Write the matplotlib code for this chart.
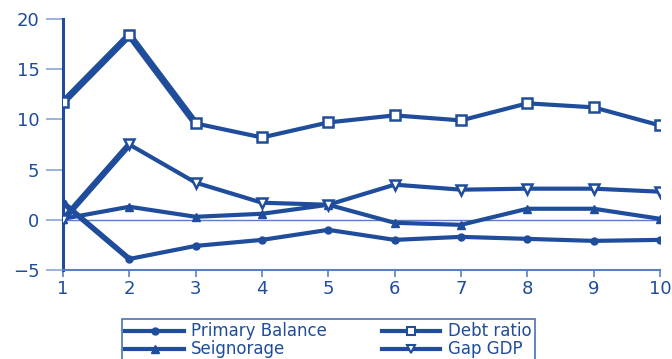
import matplotlib
matplotlib.use("Agg")
import matplotlib.pyplot as plt
from matplotlib.lines import Line2D

plt.rcParams['font.family'] = ['DejaVu Sans']

periods = [1, 2, 3, 4, 5, 6, 7, 8, 9, 10]
primary_balance = [1.7, -3.9, -2.6, -2.0, -1.0, -2.0, -1.7, -1.9, -2.1, -2.0]
debt_ratio = [11.7, 18.4, 9.6, 8.2, 9.7, 10.4, 9.9, 11.6, 11.2, 9.4]
seignorage = [0.1, 1.3, 0.3, 0.6, 1.5, -0.3, -0.5, 1.1, 1.1, 0.1]
gap_gdp = [0.0, 7.5, 3.7, 1.7, 1.5, 3.5, 3.0, 3.1, 3.1, 2.8]
y_ticks = [-5, 0, 5, 10, 15, 20]

blue = '#1f4d9b'
light = '#5b7fc0'

fig = plt.figure(figsize=(6.72, 3.59), dpi=100)
ax = fig.add_axes([63/672, 1-270/359, (660-63)/672, (270-19)/359])

lw = 3.0
ax.axhline(0, color=light, lw=1.0, zorder=1)
# heavier early segments
ax.plot(periods[:3], debt_ratio[:3], color=blue, lw=5.0, zorder=2, solid_capstyle='round')
ax.plot(periods[:2], gap_gdp[:2], color=blue, lw=4.5, zorder=2, solid_capstyle='round')
ax.plot(periods[:2], primary_balance[:2], color=blue, lw=4.0, zorder=2, solid_capstyle='round')

ax.plot(periods, primary_balance, color=blue, lw=lw, marker='o', ms=5,
        mfc=blue, mec=blue, zorder=3)
ax.plot(periods, debt_ratio, color=blue, lw=lw, marker='s', ms=6.5,
        mfc='white', mec=blue, mew=1.8, zorder=3)
ax.plot(periods, seignorage, color=blue, lw=lw, marker='^', ms=6,
        mfc=blue, mec=blue, zorder=3)
ax.plot(periods, gap_gdp, color=blue, lw=lw, marker='v', ms=7,
        mfc='white', mec=blue, mew=1.8, zorder=3)

ax.set_xlim(1, 10)
ax.set_ylim(-5, 20)
ax.set_xticks(periods)
ax.set_yticks(y_ticks)
for s in ['top', 'right']:
    ax.spines[s].set_visible(False)
ax.spines['left'].set_color(blue)
ax.spines['left'].set_linewidth(2.2)
ax.spines['bottom'].set_color(light)
ax.spines['bottom'].set_linewidth(1.5)
ax.tick_params(axis='y', length=12, width=1.2, color='#8aa5d6', labelcolor=blue,
               labelsize=13, pad=5)
ax.tick_params(axis='x', length=5, width=1.2, color=light, labelcolor=blue,
               labelsize=13, pad=2)
ax.patch.set_alpha(0)

handles = [
    Line2D([], [], color=blue, lw=lw, marker='o', ms=5, mfc=blue, mec=blue),
    Line2D([], [], color=blue, lw=lw, marker='^', ms=6, mfc=blue, mec=blue),
    Line2D([], [], color=blue, lw=lw, marker='s', ms=5.5, mfc='white', mec=blue, mew=1.5),
    Line2D([], [], color=blue, lw=lw, marker='v', ms=6, mfc='white', mec=blue, mew=1.5),
]
labels = ['Primary Balance', 'Seignorage', 'Debt ratio', 'Gap GDP']
leg = fig.legend(handles, labels, ncol=2, loc='upper left',
                 bbox_to_anchor=(122/672, 1-319/359), frameon=True, fancybox=False,
                 fontsize=12, handlelength=3.5, handletextpad=0.45, columnspacing=3.3,
                 labelspacing=0.0, borderpad=0.2, borderaxespad=0)
leg.get_frame().set_edgecolor(blue)
leg.get_frame().set_linewidth(1.2)
for t in leg.get_texts():
    t.set_color(blue)

fig.canvas.draw()
# widen the frame to the right so the box spans the full legend strip
frame = leg.get_frame()
frame.set_width(frame.get_width() + 25)

fig.savefig('out.png', dpi=100)
